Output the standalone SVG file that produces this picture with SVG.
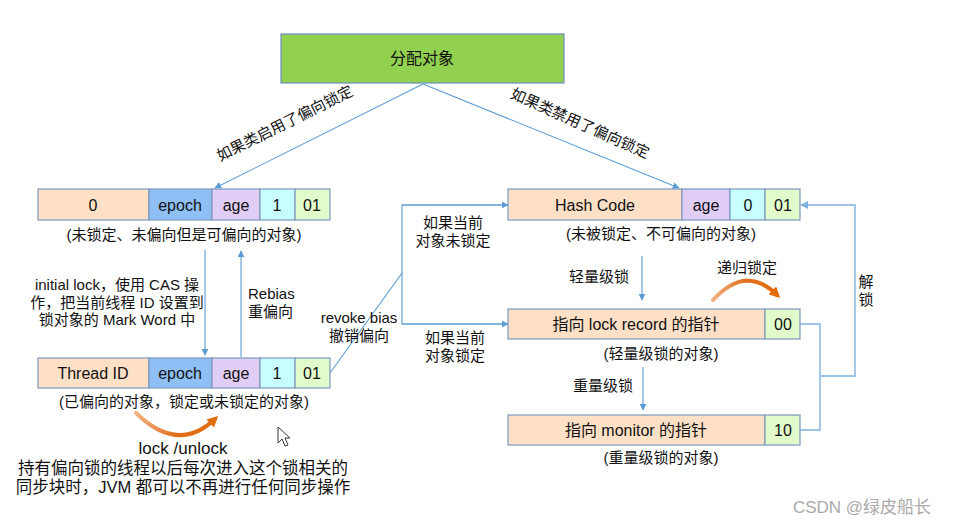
<svg xmlns="http://www.w3.org/2000/svg" width="954" height="526" viewBox="0 0 954 526">
<defs>
<style>
text{font-family:"Liberation Sans","Noto Sans CJK SC",sans-serif;fill:#111;}
.c{text-anchor:middle;}
.cell{stroke:#7C98BE;stroke-width:1.2;}
.peach{fill:#FDE0C6;}
.blue{fill:#8EC0F5;}
.lav{fill:#E1CEF7;}
.cyan{fill:#C8FEFF;}
.lg{fill:#E2FBCB;}
.t16{font-size:16px;}
.t15{font-size:15px;}
.ln{fill:none;stroke:#5B9BD5;stroke-width:1.1;}
.ln2{fill:none;stroke:#9DC3E6;stroke-width:1.8;}
.or{fill:none;stroke:url(#og);stroke-width:4;stroke-linecap:round;}
</style>
<marker id="ah" viewBox="0 0 10 10" refX="9" refY="5" markerWidth="7" markerHeight="7" markerUnits="userSpaceOnUse" orient="auto">
<path d="M0,0 L10,5 L0,10 z" fill="#5B9BD5"/>
</marker>
<marker id="ah2" viewBox="0 0 10 10" refX="9" refY="5" markerWidth="8" markerHeight="8" markerUnits="userSpaceOnUse" orient="auto">
<path d="M0,0 L10,5 L0,10 z" fill="#7FB0E0"/>
</marker>
<marker id="oh" viewBox="0 0 10 10" refX="6" refY="5" markerWidth="11" markerHeight="11" markerUnits="userSpaceOnUse" orient="auto">
<path d="M0,0 L10,5 L0,10 z" fill="#E36C0A"/>
</marker>
<linearGradient id="og" x1="0" y1="0" x2="1" y2="0">
<stop offset="0" stop-color="#F4B183"/>
<stop offset="0.5" stop-color="#E07020"/>
<stop offset="1" stop-color="#E36C0A"/>
</linearGradient>
</defs>
<rect width="954" height="526" fill="#fff"/>

<g id="alloc">
<rect x="281" y="34" width="283" height="49" fill="#92D050" stroke="#6C8EBF" stroke-width="1.2"/>
<text x="422" y="64" class="c t16">分配对象</text>
</g>

<g id="connectors">
<line class="ln" x1="423" y1="84" x2="215" y2="188" marker-end="url(#ah)"/>
<line class="ln" x1="423" y1="84" x2="679" y2="188" marker-end="url(#ah)"/>
<line class="ln" x1="205" y1="250" x2="205" y2="355" marker-end="url(#ah)"/>
<line class="ln" x1="241" y1="357" x2="241" y2="251" marker-end="url(#ah)"/>
<polyline class="ln" points="330,373 402,273"/>
<polyline class="ln" points="508,205 402,205 402,324 508,324"/>
<line class="ln" x1="402" y1="205" x2="508" y2="205" marker-end="url(#ah)"/>
<line class="ln" x1="402" y1="324" x2="508" y2="324" marker-end="url(#ah)"/>
<line class="ln" x1="642" y1="256" x2="642" y2="300" marker-end="url(#ah)"/>
<line class="ln" x1="643" y1="367" x2="643" y2="410" marker-end="url(#ah)"/>
<polyline class="ln2" points="800,324 820,324 820,430 800,430"/>
<polyline class="ln2" points="820,376 855,376 855,205 801,205" marker-end="url(#ah2)"/>
<path class="or" d="M136,413 Q178,454 215,419" marker-end="url(#oh)"/>
<path class="or" d="M713,300 Q746,264 777,295" marker-end="url(#oh)"/>
</g>

<g id="unlocked-biasable">
<rect class="cell peach" x="38" y="189" width="111" height="31"/>
<rect class="cell blue" x="149" y="189" width="63" height="31"/>
<rect class="cell lav" x="212" y="189" width="48" height="31"/>
<rect class="cell cyan" x="260" y="189" width="35" height="31"/>
<rect class="cell lg" x="295" y="189" width="35" height="31"/>
<text x="93" y="211" class="c t16">0</text>
<text x="180" y="211" class="c t16">epoch</text>
<text x="236" y="211" class="c t16">age</text>
<text x="277" y="211" class="c t16">1</text>
<text x="312" y="211" class="c t16">01</text>
<text x="184" y="240" class="c t15">(未锁定、未偏向但是可偏向的对象)</text>
</g>

<g id="biased">
<rect class="cell peach" x="38" y="358" width="111" height="30"/>
<rect class="cell blue" x="149" y="358" width="63" height="30"/>
<rect class="cell lav" x="212" y="358" width="48" height="30"/>
<rect class="cell cyan" x="260" y="358" width="35" height="30"/>
<rect class="cell lg" x="295" y="358" width="35" height="30"/>
<text x="93" y="379" class="c t16">Thread ID</text>
<text x="180" y="379" class="c t16">epoch</text>
<text x="236" y="379" class="c t16">age</text>
<text x="277" y="379" class="c t16">1</text>
<text x="312" y="379" class="c t16">01</text>
<text x="184" y="407" class="c t15">(已偏向的对象，锁定或未锁定的对象)</text>
</g>

<g id="hashcode">
<rect class="cell peach" x="508" y="189" width="174" height="31"/>
<rect class="cell lav" x="682" y="189" width="48" height="31"/>
<rect class="cell cyan" x="730" y="189" width="35" height="31"/>
<rect class="cell lg" x="765" y="189" width="35" height="31"/>
<text x="595" y="211" class="c t16">Hash Code</text>
<text x="706" y="211" class="c t16">age</text>
<text x="748" y="211" class="c t16">0</text>
<text x="783" y="211" class="c t16">01</text>
<text x="661" y="239" class="c t15">(未被锁定、不可偏向的对象)</text>
</g>

<g id="lightweight">
<rect class="cell peach" x="508" y="309" width="257" height="30"/>
<rect class="cell lg" x="765" y="309" width="35" height="30"/>
<text x="636" y="330" class="c t16">指向 lock record 的指针</text>
<text x="783" y="330" class="c t16">00</text>
<text x="661" y="359" class="c t15">(轻量级锁的对象)</text>
</g>

<g id="heavyweight">
<rect class="cell peach" x="508" y="415" width="257" height="30"/>
<rect class="cell lg" x="765" y="415" width="35" height="30"/>
<text x="636" y="436" class="c t16">指向 monitor 的指针</text>
<text x="783" y="436" class="c t16">10</text>
<text x="661" y="463" class="c t15">(重量级锁的对象)</text>
</g>

<g id="labels">
<text class="c t15" transform="translate(287,128) rotate(-26.5)">如果类启用了偏向锁定</text>
<text class="c t15" transform="translate(578,128) rotate(24)">如果类禁用了偏向锁定</text>
<text x="117" y="290" class="c t15">initial lock，使用 CAS 操</text>
<text x="117" y="308" class="c t15">作，把当前线程 ID 设置到</text>
<text x="117" y="325" class="c t15">锁对象的 Mark Word 中</text>
<text x="248" y="299" class="t15">Rebias</text>
<text x="248" y="317" class="t15">重偏向</text>
<text x="359" y="323" class="c t15">revoke bias</text>
<text x="359" y="341" class="c t15">撤销偏向</text>
<text x="453" y="228" class="c t15">如果当前</text>
<text x="453" y="246" class="c t15">对象未锁定</text>
<text x="455" y="343" class="c t15">如果当前</text>
<text x="455" y="361" class="c t15">对象锁定</text>
<text x="599" y="282" class="c t15">轻量级锁</text>
<text x="747" y="273" class="c t15">递归锁定</text>
<text x="603" y="391" class="c t15">重量级锁</text>
<text x="866" y="287" class="c t15">解</text>
<text x="866" y="305" class="c t15">锁</text>
<text x="183" y="454" class="c" style="font-size:17px">lock /unlock</text>
<text x="183" y="474" class="c" style="font-size:16.5px">持有偏向锁的线程以后每次进入这个锁相关的</text>
<text x="183" y="493" class="c" style="font-size:16.5px">同步块时，JVM 都可以不再进行任何同步操作</text>
</g>

<polygon points="278,427 278,443 282,439 285,446 288,445 285,438 290,438" fill="#fff" stroke="#222" stroke-width="0.9"/>
<text x="862" y="513" class="c" style="font-size:17px;fill:#AAAAAA">CSDN @绿皮船长</text>
</svg>
